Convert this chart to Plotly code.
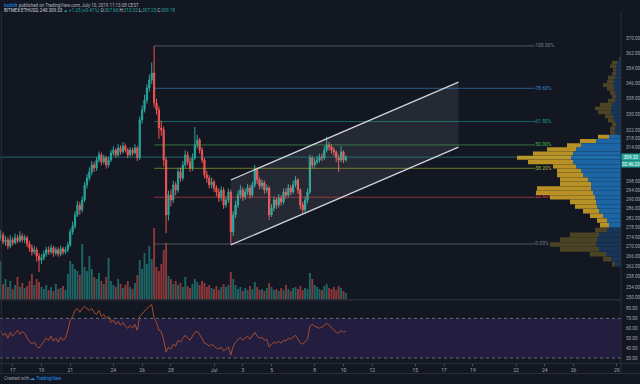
import math
import pandas as pd
import plotly.graph_objects as go

# ---------------- data ----------------
start_time = "2019-06-16 04:00"
first_open = 273.7

closes = [274.9, 272.1, 272.9, 270.4, 272.9, 271.7, 273.7, 272.5, 274.5, 272.9, 273.7, 271.2,
          269.6, 268.0, 268.8, 266.3, 264.7, 265.5,
          267.1, 268.8, 268.0, 269.6, 267.5, 268.8, 267.1, 269.2, 268.0, 268.8,
          270.8, 276.2, 278.7, 283.4, 287.7, 285.6, 289.9, 296.6, 299.7, 302.5, 305.7, 304.3,
          308.0, 310.4, 307.1, 309.0, 305.7, 308.0, 311.3, 312.7, 310.4, 313.7, 311.8, 314.6, 312.7, 310.4, 312.7, 311.3, 313.7, 309.0,
          327.3, 332.3, 337.3, 343.5, 347.7, 351.4, 335.8, 332.3, 323.3, 322.3, 308.0, 283.4,
          292.1, 289.9, 296.6, 294.3, 302.5, 299.7, 305.7, 310.4, 307.1, 304.3, 309.0, 315.1, 317.5, 312.7, 308.0, 301.1, 299.7, 296.6, 297.9, 295.2, 293.4, 290.8, 294.3, 287.7, 289.9, 293.4, 276.2,
          283.4, 287.7, 292.1, 294.3, 291.2, 293.4, 295.2, 292.1, 296.6, 303.4, 298.8, 296.1, 297.5, 294.3, 295.2, 283.4, 286.4, 289.9, 287.7, 290.8, 289.0, 293.4, 292.1, 295.2, 293.4, 296.6, 298.8, 294.3, 287.7, 285.6, 289.9, 293.4,
          309.0, 305.7, 307.1, 308.0, 309.4, 309.0, 312.7, 315.1, 314.2, 312.7, 311.8, 309.0, 308.0, 311.8, 308.0, 309.33]

highs = [277.0, 276.0, 274.5, 274.0, 274.8, 274.0, 275.5, 275.0, 276.5, 275.6, 275.0, 274.5,
         272.5, 271.0, 270.5, 269.8, 267.5, 267.0,
         268.5, 270.0, 270.2, 271.0, 270.5, 270.0, 269.8, 270.5, 270.0, 270.0,
         272.0, 277.5, 280.5, 285.0, 289.5, 289.0, 291.5, 298.0, 301.5, 304.5, 307.5, 307.0,
         309.5, 312.0, 311.5, 310.5, 310.0, 309.5, 312.8, 314.5, 313.5, 315.5, 315.0, 316.5, 315.8, 313.5, 314.0, 313.8, 315.5, 314.5,
         329.0, 334.5, 340.0, 345.5, 350.5, 357.1, 366.1, 338.0, 334.0, 327.0, 324.0, 309.5,
         294.0, 294.5, 298.5, 298.0, 304.0, 304.5, 307.5, 312.5, 312.0, 309.0, 311.0, 323.8, 320.0, 318.5, 314.0, 309.0, 303.0, 301.0, 300.0, 299.0, 296.5, 295.0, 296.0, 295.5, 291.5, 295.0, 294.5,
         285.0, 289.5, 294.0, 296.5, 295.5, 295.0, 297.0, 296.5, 298.0, 305.7, 304.5, 300.0, 299.0, 298.5, 296.8, 296.0, 288.0, 291.5, 291.0, 292.5, 292.0, 295.0, 295.0, 297.0, 296.5, 298.5, 300.5, 299.5, 295.0, 289.0, 291.5, 295.0,
         310.5, 310.0, 309.0, 310.0, 311.0, 311.0, 314.5, 319.0, 316.5, 315.5, 314.0, 312.5, 310.5, 314.5, 312.5, 310.2]

lows = [272.5, 271.0, 270.5, 269.0, 269.5, 270.5, 271.0, 271.5, 271.8, 271.8, 271.5, 270.0,
        268.0, 266.5, 267.0, 264.0, 260.0, 263.0,
        264.5, 266.0, 266.8, 267.0, 266.0, 266.5, 266.0, 266.2, 266.8, 267.0,
        267.8, 270.0, 275.0, 277.5, 282.5, 283.5, 284.5, 289.0, 295.0, 298.5, 301.0, 302.5,
        303.0, 306.8, 305.5, 306.0, 304.0, 304.5, 307.0, 310.0, 309.0, 309.5, 310.5, 311.0, 311.5, 308.8, 309.5, 310.0, 310.5, 307.5,
        308.0, 325.5, 331.0, 335.5, 341.5, 345.5, 333.5, 330.0, 318.0, 319.5, 305.0, 275.7,
        281.0, 287.0, 288.5, 292.0, 293.0, 298.0, 298.5, 304.5, 305.5, 302.5, 303.0, 308.0, 313.5, 311.0, 306.5, 299.5, 297.5, 295.0, 295.0, 293.5, 291.5, 289.0, 289.5, 286.0, 286.5, 288.5, 271.2,
        274.5, 282.0, 286.5, 290.5, 289.5, 290.0, 292.0, 290.5, 291.0, 295.5, 297.0, 294.5, 294.8, 292.5, 293.0, 281.3, 282.5, 285.0, 286.0, 286.5, 287.5, 288.0, 290.5, 291.0, 292.0, 292.5, 295.5, 292.5, 286.0, 284.0, 284.5, 288.5,
        292.5, 304.0, 304.5, 306.0, 306.8, 307.5, 308.0, 311.5, 312.5, 311.0, 310.0, 307.0, 302.5, 307.0, 306.5, 307.25]

volumes = [38, 15, 20, 12, 18, 10, 14, 22, 12, 16, 11, 13,
           18, 25, 14, 20, 17, 12,
           10, 14, 9, 12, 8, 15, 10, 11, 13, 9,
           25, 38, 35, 30, 28, 24, 55, 32, 28, 43, 30, 22,
           20, 26, 18, 15, 22, 41, 18, 14, 12, 20, 15, 11, 14, 18, 12, 10, 16, 24,
           39, 30, 46, 35, 53, 40, 71, 32, 28, 35, 49, 56,
           23, 20, 15, 18, 14, 16, 12, 22, 13, 11, 15, 20, 17, 14, 18, 16, 12, 14, 11, 10, 13, 9, 12, 15, 12, 14, 27,
           20, 14, 10, 12, 8, 11, 9, 13, 10, 17, 12, 9, 10, 8, 11, 16, 12, 9, 10, 8, 11, 9, 14, 10, 8, 11, 12, 10, 13, 9, 11, 10,
           26, 20, 14, 12, 10, 9, 13, 15, 11, 10, 12, 9, 13, 11, 8, 6]

rsi = [57, 53, 55, 50, 56, 52, 55, 58, 54, 57, 55, 50,
       47, 44, 46, 42, 40, 43,
       46, 50, 48, 52, 47, 50, 46, 51, 48, 50,
       58, 68, 72, 78, 80, 76, 80, 82, 80, 78, 80, 76, 74, 78, 72, 74, 70, 72,
       66, 68, 64, 67, 63, 66, 62, 60, 63, 60, 64, 58,
       72, 75, 78, 80, 82, 84,
       70, 66, 58, 57, 48, 36,
       41, 39, 44, 42, 48,
       46, 50, 53, 50, 48, 52, 56, 57, 54,
       50, 45, 44, 42, 44,
       42, 40, 39, 41, 37, 39, 41, 33,
       42, 46, 49, 51, 48, 50, 52, 49,
       52, 56, 52, 50, 51, 48,
       49, 41, 44, 46, 45, 47, 45,
       48, 47, 50, 49, 51, 53, 49,
       45, 44, 47, 49,
       62, 64, 62, 61, 60, 61, 63, 65, 63, 60, 58, 56, 55, 58, 56, 57]

# volume profile (rows of 2 USD, centre price), total and down (blue) part
vp_levels = [263, 265, 267, 269, 271, 273, 275, 277, 279, 281, 283, 285, 287, 289, 291, 293, 295, 297, 299, 301,
             303, 305, 307, 309, 311, 313, 315, 317, 319, 321, 323, 325, 327, 329, 331, 333, 335, 337, 339, 341,
             343, 345, 347, 349, 351, 353, 355, 357, 359]
vp_total = [9, 18, 31, 61, 71, 61, 51, 26, 21, 24, 31, 38, 46, 51, 71, 85, 84, 61, 61, 64,
            64, 68, 93, 104, 88, 74, 54, 41, 23, 11, 11, 9, 13, 16, 23, 26, 21, 13, 9, 11,
            14, 18, 14, 13, 9, 8, 11, 9, 2]
vp_down = [6, 10, 15, 22, 25, 24, 22, 14, 12, 14, 18, 22, 24, 25, 26, 28, 30, 30, 33, 38,
           40, 45, 48, 50, 48, 45, 40, 25, 12, 6, 6, 5, 7, 8, 10, 10, 9, 6, 5, 6,
           7, 8, 7, 6, 5, 5, 5, 4, 1]
value_area = (278, 320)

# drawings
fib_start, fib_end = "2019-06-26 20:00", "2019-07-23 08:00"
fib_high, fib_low = 366.1, 271.2
fib_ratios = [0, 0.236, 0.382, 0.5, 0.618, 0.786, 1.0]
fib_labels = ["0.00%", "23.60%", "38.20%", "50.00%", "61.80%", "78.60%", "100.00%"]
fib_colors = ["#787b86", "#e0474f", "#a9b72e", "#4caf50", "#1e9e8e", "#3a86c8", "#787b86"]

chan_dates = ["2019-07-02 04:00", "2019-07-18 00:00"]
chan_upper = [298.8, 346.6]
chan_lower = [270.8, 314.1]

price_ticks = [370, 362, 354, 346, 338, 330, 322, 318, 314, 298, 294, 290, 286, 282, 278, 274, 270, 266, 262, 258, 254, 250]
rsi_ticks = [80, 70, 60, 50, 40, 30]
time_ticks = ["2019-06-17", "2019-06-19", "2019-06-21", "2019-06-24", "2019-06-26", "2019-06-28", "2019-07-01",
              "2019-07-03", "2019-07-05", "2019-07-08", "2019-07-10", "2019-07-12", "2019-07-15", "2019-07-17",
              "2019-07-19", "2019-07-22", "2019-07-24", "2019-07-26", "2019-07-29"]
time_labels = ["17", "19", "21", "24", "26", "28", "Jul", "3", "5", "8", "10", "12", "15", "17", "19", "22", "24", "26", "29"]
x_range = ["2019-06-16 02:49", "2019-07-29 07:12"]
price_range = (249.5, 386.0)
rsi_range = (25, 88)
last_price = closes[-1]

# ---------------- derived ----------------
opens = [first_open] + closes[:-1]
times = pd.date_range(start_time, periods=len(closes), freq="4h")
up = [c >= o for o, c in zip(opens, closes)]

W, H = 640, 384
XR = 621 / W


def py(v):
    return 1 - v / H


BG = "#131722"
UP, DN = "#26a69a", "#ef5350"
FONT = "Roboto"
TXT = "#a3a6af"

fig = go.Figure()

# channel fill
fig.add_trace(go.Scatter(
    x=[chan_dates[0], chan_dates[1], chan_dates[1], chan_dates[0]],
    y=[chan_upper[0], chan_upper[1], chan_lower[1], chan_lower[0]],
    fill="toself", fillcolor="rgba(200,205,220,0.10)", line=dict(width=0), mode="lines",
    hoverinfo="skip", xaxis="x", yaxis="y"))

# fib lines and labels
for r, lab, col in zip(fib_ratios, fib_labels, fib_colors):
    lvl = math.exp(math.log(fib_low) + r * (math.log(fib_high) - math.log(fib_low)))
    fig.add_trace(go.Scatter(x=[fib_start, fib_end], y=[lvl, lvl], mode="lines",
                             line=dict(color=col, width=1), opacity=0.6,
                             hoverinfo="skip", xaxis="x", yaxis="y"))
    fig.add_trace(go.Scatter(x=[fib_end], y=[lvl], mode="text", text=[lab],
                             textposition="middle right",
                             textfont=dict(color=col, size=5, family=FONT),
                             hoverinfo="skip", xaxis="x", yaxis="y"))

# current price line
fig.add_trace(go.Scatter(x=x_range, y=[last_price, last_price], mode="lines",
                         line=dict(color=UP, width=1), opacity=0.55,
                         hoverinfo="skip", xaxis="x", yaxis="y"))

# candles
fig.add_trace(go.Candlestick(
    x=times, open=opens, high=highs, low=lows, close=closes,
    increasing=dict(line=dict(color=UP, width=1), fillcolor=UP),
    decreasing=dict(line=dict(color=DN, width=1), fillcolor=DN),
    whiskerwidth=0, xaxis="x", yaxis="y", hoverinfo="skip"))

# channel lines
for ys in (chan_upper, chan_lower):
    fig.add_trace(go.Scatter(x=chan_dates, y=ys, mode="lines",
                             line=dict(color="#d1d4dc", width=1.3),
                             hoverinfo="skip", xaxis="x", yaxis="y"))

# volume
fig.add_trace(go.Bar(
    x=times, y=volumes, width=4 * 3600 * 1000 * 0.8,
    marker=dict(color=["rgba(38,166,154,0.55)" if u else "rgba(239,83,80,0.55)" for u in up], line=dict(width=0)),
    xaxis="x", yaxis="y2", hoverinfo="skip"))


# volume profile rows
def rows(parts, color):
    xs, ys = [], []
    for lvl, a, b in parts:
        lo, hi = lvl - 0.95, lvl + 0.95
        xs += [a, b, b, a, None]
        ys += [lo, lo, hi, hi, None]
    fig.add_trace(go.Scatter(x=xs, y=ys, fill="toself", fillcolor=color, mode="lines",
                             line=dict(width=0), hoverinfo="skip", xaxis="x2", yaxis="y"))


in_va = [value_area[0] <= l <= value_area[1] for l in vp_levels]
rows([(l, 0, d) for l, d, v in zip(vp_levels, vp_down, in_va) if v], "rgba(33,130,210,0.75)")
rows([(l, d, t) for l, d, t, v in zip(vp_levels, vp_down, vp_total, in_va) if v], "rgba(230,180,40,0.78)")
rows([(l, 0, d) for l, d, v in zip(vp_levels, vp_down, in_va) if not v], "rgba(33,100,170,0.38)")
rows([(l, d, t) for l, d, t, v in zip(vp_levels, vp_down, vp_total, in_va) if not v], "rgba(200,160,40,0.32)")

# RSI
fig.add_trace(go.Scatter(x=times, y=rsi, mode="lines", line=dict(color="#b5542c", width=0.9),
                         hoverinfo="skip", xaxis="x3", yaxis="y3"))

main_dom = [py(299), py(11)]
rsi_dom = [py(363), py(300.5)]

fig.update_layout(
    template="none",
    width=W, height=H, margin=dict(l=0, r=0, t=0, b=0, pad=0),
    paper_bgcolor=BG, plot_bgcolor=BG, showlegend=False, hovermode=False,
    font=dict(family=FONT, color=TXT, size=5.5),
    xaxis=dict(domain=[0, XR], range=x_range, type="date", showticklabels=False, showgrid=False,
               zeroline=False, showline=False, ticks="", rangeslider=dict(visible=False), anchor="y",
               automargin=False),
    yaxis=dict(domain=main_dom, type="log", range=[math.log10(price_range[0]), math.log10(price_range[1])],
               showticklabels=False, showgrid=False, zeroline=False, showline=False, ticks="",
               anchor="x", automargin=False),
    yaxis2=dict(overlaying="y", range=[0, 288], visible=False, anchor="x", automargin=False),
    xaxis2=dict(overlaying="x", range=[621, 0], visible=False, anchor="y", automargin=False),
    xaxis3=dict(domain=[0, XR], range=x_range, type="date", anchor="y3", tickvals=time_ticks, ticktext=time_labels,
                showgrid=False, zeroline=False, showline=False, ticks="outside", ticklen=2, tickcolor="#50535e",
                tickfont=dict(size=5, color=TXT, family=FONT), automargin=False),
    yaxis3=dict(domain=rsi_dom, range=list(rsi_range), showticklabels=False, showgrid=False, zeroline=False,
                showline=False, ticks="", anchor="x3", automargin=False),
)

shapes = [
    dict(type="rect", xref="paper", yref="y3", x0=0, x1=XR, y0=30, y1=70,
         fillcolor="rgba(120,60,210,0.17)", line=dict(width=0), layer="below"),
    dict(type="line", xref="paper", yref="y3", x0=0, x1=XR, y0=70, y1=70,
         line=dict(color="#6a6d78", width=1, dash="dot")),
    dict(type="line", xref="paper", yref="y3", x0=0, x1=XR, y0=30, y1=30,
         line=dict(color="#6a6d78", width=1, dash="dot")),
    dict(type="line", xref="paper", yref="paper", x0=0, x1=XR, y0=py(299.8), y1=py(299.8),
         line=dict(color="#2a2e39", width=1.5)),
    dict(type="line", xref="paper", yref="paper", x0=0, x1=1, y0=py(363.5), y1=py(363.5),
         line=dict(color="#2a2e39", width=1)),
    dict(type="line", xref="paper", yref="paper", x0=XR, x1=XR, y0=py(373), y1=py(11),
         line=dict(color="#2a2e39", width=1)),
    dict(type="line", xref="paper", yref="paper", x0=0, x1=1, y0=py(373.5), y1=py(373.5),
         line=dict(color="#2a2e39", width=1)),
    dict(type="line", xref="paper", yref="paper", x0=0.002, x1=0.002, y0=py(373), y1=py(11),
         line=dict(color="#2a2e39", width=1)),
]
fig.update_layout(shapes=shapes)

LX = 623.5 / W
ann = []
for v in price_ticks:
    ann.append(dict(xref="paper", yref="y", x=LX, y=math.log10(v), xanchor="left", yanchor="middle",
                    showarrow=False, text=f"{v:.2f}", font=dict(size=4.6, color=TXT, family=FONT)))
for v in rsi_ticks:
    ann.append(dict(xref="paper", yref="y3", x=LX, y=v, xanchor="left", yanchor="middle",
                    showarrow=False, text=f"{v:.2f}", font=dict(size=4.6, color=TXT, family=FONT)))
ann += [
    dict(xref="paper", yref="paper", x=2 / W, y=py(0.5), xanchor="left", yanchor="top", showarrow=False,
         text="<span style='color:#2196f3'>tuobilk</span> published on TradingView.com, July 10, 2019 11:13:08 CEST",
         font=dict(size=4.5, color="#b2b5be", family=FONT)),
    dict(xref="paper", yref="paper", x=2 / W, y=py(5), xanchor="left", yanchor="top", showarrow=False,
         text="BITMEX:ETHUSD, 240 309.33 <span style='color:#26a69a'>▲ +1.25 (+0.41%)</span> O:<span style='color:#26a69a'>307.60</span> H:<span style='color:#26a69a'>310.20</span> L:<span style='color:#26a69a'>307.25</span> C:<span style='color:#26a69a'>309.18</span>",
         font=dict(size=4.5, color="#d1d4dc", family=FONT)),
    dict(xref="paper", yref="y", x=XR, y=math.log10(last_price), xanchor="left", yanchor="middle",
         showarrow=False, text=f"{last_price:.2f}", bgcolor=UP, font=dict(size=4.6, color="white", family=FONT),
         width=18, height=6, borderpad=0),
    dict(xref="paper", yref="y", x=XR, y=math.log10(last_price), yshift=-6.5, xanchor="left", yanchor="middle",
         showarrow=False, text="02:46:23", bgcolor=UP, font=dict(size=4.6, color="white", family=FONT),
         width=18, height=6, borderpad=0),
    dict(xref="paper", yref="paper", x=2 / W, y=py(378.5), xanchor="left", yanchor="middle", showarrow=False,
         text="Created with <span style='color:#2196f3'>☁ TradingView</span>", font=dict(size=4.5, color="#9598a1", family=FONT)),
]
fig.update_layout(annotations=ann)

fig.write_html(
    "out.html",
    config={"displayModeBar": False, "staticPlot": True},
    post_script="document.body.style.margin='0';document.body.style.padding='0';"
                "document.body.style.background='#131722';document.body.style.overflow='hidden';",
)
